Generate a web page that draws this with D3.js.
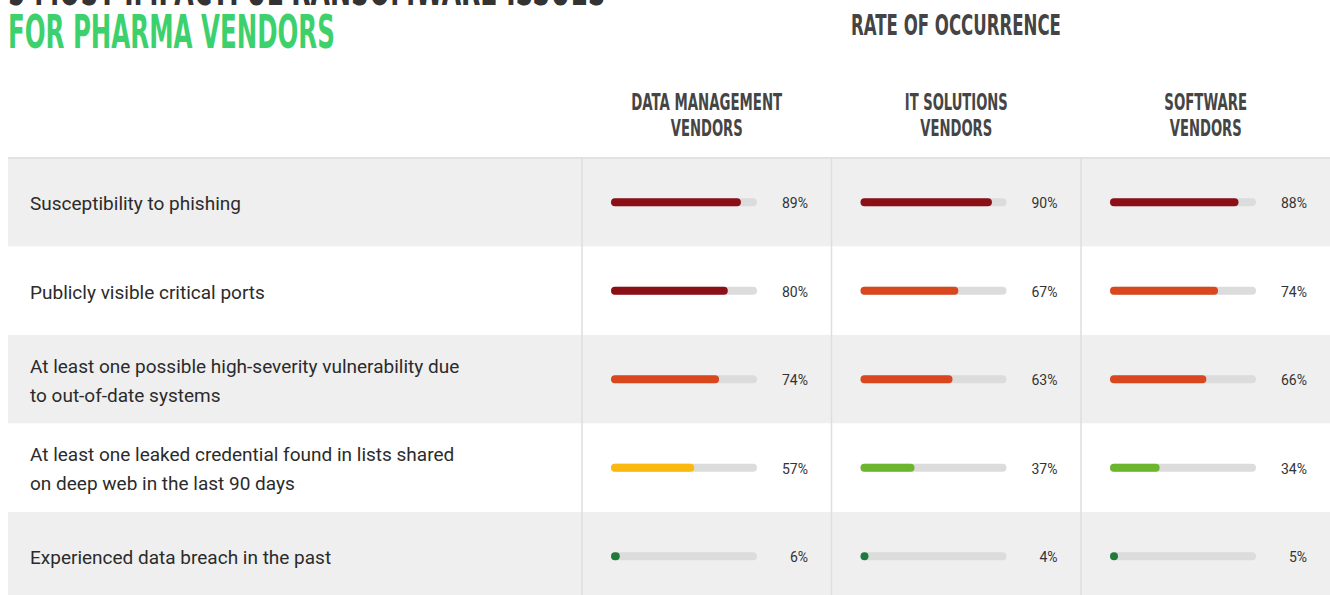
<!DOCTYPE html>
<html>
<head>
<meta charset="utf-8">
<script src="https://cdn.jsdelivr.net/npm/d3@7"></script>
<style>
    body { margin: 0; background: #fff; }
    svg { display: block; }
</style>
</head>
<body>
<div id="chart"></div>
<script>
(function () {
    "use strict";

    // data
    var issues = [
        ["Susceptibility to phishing"],
        ["Publicly visible critical ports"],
        ["At least one possible high-severity vulnerability due", "to out-of-date systems"],
        ["At least one leaked credential found in lists shared", "on deep web in the last 90 days"],
        ["Experienced data breach in the past"]
    ];
    var vendors = [
        ["DATA MANAGEMENT", "VENDORS"],
        ["IT SOLUTIONS", "VENDORS"],
        ["SOFTWARE", "VENDORS"]
    ];
    var dataManagement = [89, 80, 74, 57, 6];
    var itSolutions = [90, 67, 63, 37, 4];
    var software = [88, 74, 66, 34, 5];
    var series = [dataManagement, itSolutions, software];

    var width = 1330, height = 595;

    var svg = d3.select("#chart")
        .append("svg")
        .attr("width", width)
        .attr("height", height);

    // rows and columns
    var y = d3.scaleBand()
        .domain(d3.range(issues.length))
        .range([158, 600.5]);
    var col = d3.scaleBand()
        .domain(d3.range(vendors.length))
        .range([582, 1330.5]);
    var x = d3.scaleLinear()
        .domain([0, 100])
        .range([0, 146]);
    var color = d3.scaleThreshold()
        .domain([10, 50, 60, 75])
        .range(["#1f7a3c", "#6cb62d", "#f9b90f", "#d8471e", "#8a0f17"]);

    var condensed = "'Liberation Sans Narrow', 'DejaVu Sans Condensed', 'Roboto', sans-serif";

    // squeeze a condensed title text to a given width (x = anchor point)
    function fit(text, cx, cy, target) {
        var w = text.node().getComputedTextLength();
        text.attr("x", 0).attr("y", 0)
            .attr("transform", "translate(" + cx + "," + cy + ") scale(" + (target / w) + ",1)");
    }

    // title (first line is cut off at the top)
    var t1 = svg.append("text")
        .style("font-family", condensed).style("font-weight", "bold")
        .style("font-size", "46px").style("fill", "#333")
        .text("5 MOST IMPACTFUL RANSOMWARE ISSUES");
    fit(t1, 8, 5, 598);
    var t2 = svg.append("text")
        .style("font-family", condensed).style("font-weight", "bold")
        .style("font-size", "46px").style("fill", "#3dd16d")
        .text("FOR PHARMA VENDORS");
    fit(t2, 8, 48, 327);

    var t3 = svg.append("text")
        .attr("text-anchor", "middle")
        .style("font-family", condensed).style("font-weight", "bold")
        .style("font-size", "29px").style("fill", "#444")
        .text("RATE OF OCCURRENCE");
    fit(t3, 956, 35, 210);

    // column headers
    var headW = [151, 103, 83];
    vendors.forEach(function (d, i) {
        d.forEach(function (t, j) {
            var h = svg.append("text")
                .attr("text-anchor", "middle")
                .style("font-family", condensed).style("font-weight", "bold")
                .style("font-size", "23px").style("fill", "#454545")
                .text(t);
            fit(h, col(i) + col.bandwidth() / 2, 110 + j * 26, j === 0 ? headW[i] : 72);
        });
    });

    // row backgrounds
    svg.selectAll(".rowbg")
        .data(issues)
        .enter()
        .append("rect")
        .attr("x", 8)
        .attr("y", function (d, i) { return y(i); })
        .attr("width", width - 8)
        .attr("height", y.bandwidth())
        .style("fill", function (d, i) { return i % 2 === 0 ? "#efefef" : "#fff"; });

    svg.append("line")
        .attr("x1", 8).attr("x2", width)
        .attr("y1", y(0)).attr("y2", y(0))
        .style("stroke", "#e2e2e2").style("stroke-width", 2);

    // column dividers
    svg.selectAll(".divider")
        .data(vendors)
        .enter()
        .append("line")
        .attr("x1", function (d, i) { return col(i); })
        .attr("x2", function (d, i) { return col(i); })
        .attr("y1", y(0))
        .attr("y2", height)
        .style("stroke", "#dedede")
        .style("stroke-width", 1.5);

    // row labels
    svg.selectAll(".label")
        .data(issues)
        .enter()
        .append("text")
        .attr("x", 30)
        .attr("y", function (d, i) { return y(i) + y.bandwidth() / 2 + 8 - (d.length - 1) * 14.5; })
        .style("font-family", "Roboto, sans-serif")
        .style("font-size", "19px")
        .style("fill", "#2b2b2b")
        .selectAll("tspan")
        .data(function (d) { return d; })
        .enter()
        .append("tspan")
        .attr("x", 30)
        .attr("dy", function (t, j) { return j === 0 ? 0 : 29; })
        .text(function (t) { return t; });

    // bars
    var cells = [];
    series.forEach(function (vals, c) {
        vals.forEach(function (v, r) { cells.push({ c: c, r: r, v: v }); });
    });

    var barH = 8;
    var cell = svg.selectAll(".cell")
        .data(cells)
        .enter()
        .append("g")
        .attr("transform", function (d) {
            return "translate(" + (col(d.c) + 29) + "," + (y(d.r) + y.bandwidth() / 2) + ")";
        });

    cell.append("rect")
        .attr("x", 0)
        .attr("y", -barH / 2)
        .attr("width", x(100))
        .attr("height", barH)
        .attr("rx", barH / 2)
        .style("fill", "#dcdcdc");

    cell.append("rect")
        .attr("x", 0)
        .attr("y", -barH / 2)
        .attr("width", function (d) { return Math.max(x(d.v), barH); })
        .attr("height", barH)
        .attr("rx", barH / 2)
        .style("fill", function (d) { return color(d.v); });

    cell.append("text")
        .attr("x", 197)
        .attr("y", 6)
        .attr("text-anchor", "end")
        .style("font-family", "Roboto, sans-serif")
        .style("font-size", "14px")
        .style("fill", "#333")
        .text(function (d) { return d.v + "%"; });
})();
</script>
</body>
</html>
